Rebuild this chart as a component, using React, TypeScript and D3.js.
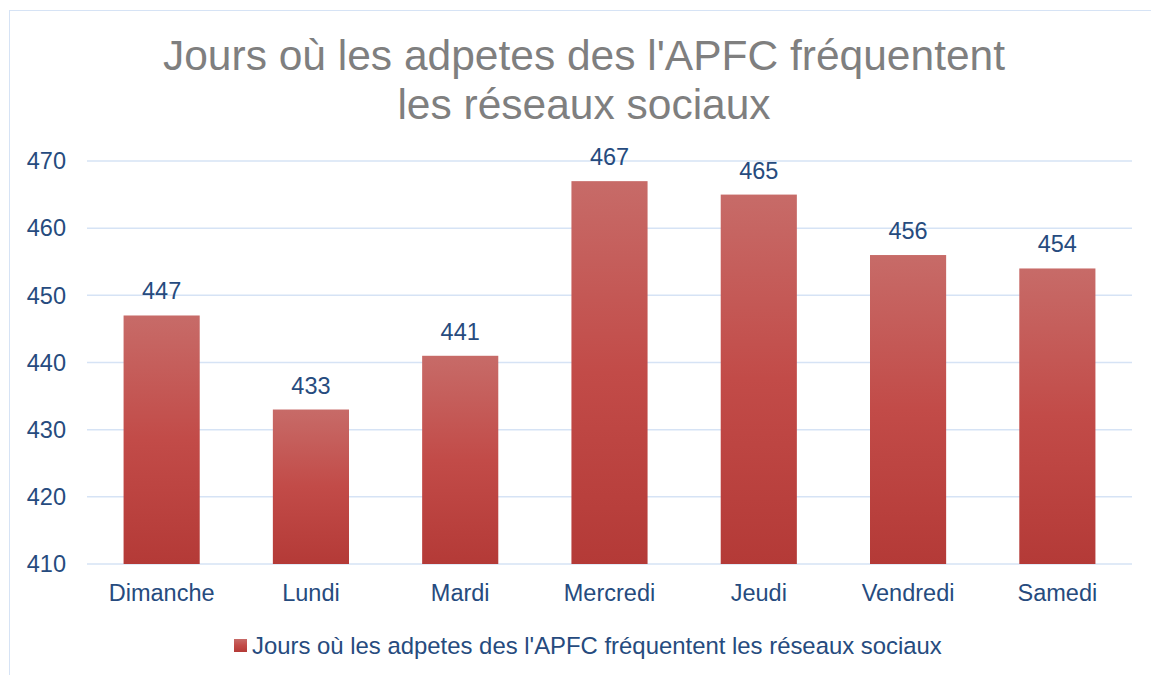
import React from "react";
import * as d3 from "d3";

const categories = ["Dimanche", "Lundi", "Mardi", "Mercredi", "Jeudi", "Vendredi", "Samedi"];
const values = [447, 433, 441, 467, 465, 456, 454];
const yTicks = [410, 420, 430, 440, 450, 460, 470];
const titleLines = ["Jours où les adpetes des l'APFC fréquentent", "les réseaux sociaux"];
const seriesName = "Jours où les adpetes des l'APFC fréquentent les réseaux sociaux";

export default function App() {
  const W = 1151, H = 675;
  const left = 87, right = 1132, top = 161, bottom = 564;
  const x = d3.scaleBand().domain(categories).range([left, right]).paddingInner(0.49).paddingOuter(0.245);
  const y = d3.scaleLinear().domain([410, 470]).range([bottom, top]);
  const font = "'Liberation Sans', Arial, sans-serif";
  const blue = "#264b7e";
  return (
    <svg width={W} height={H} style={{ position: "absolute", left: 0, top: 0 }} fontFamily={font}>
      <defs>
        <linearGradient id="barGrad" x1="0" y1="0" x2="0" y2="1">
          <stop offset="0" stopColor="#c76b68" />
          <stop offset="0.5" stopColor="#c24b48" />
          <stop offset="1" stopColor="#b43a37" />
        </linearGradient>
      </defs>
      <rect x={0} y={0} width={W} height={H} fill="#fff" />
      <rect x={9.5} y={10.5} width={W + 20} height={H + 20} fill="#fff" stroke="#d6e3f5" strokeWidth={1} />
      {titleLines.map((t, i) => (
        <text key={i} x={584} y={70 + i * 49} textAnchor="middle" fontSize={42.5} fill="#7f7f7f">{t}</text>
      ))}
      {yTicks.map((t) => (
        <g key={t}>
          <line x1={left} x2={right} y1={y(t)} y2={y(t)} stroke="#d6e3f5" strokeWidth={1.5} />
          <text x={66} y={y(t)} dy="0.35em" textAnchor="end" fontSize={23.5} fill={blue}>{t}</text>
        </g>
      ))}
      {categories.map((c, i) => (
        <g key={c}>
          <rect x={x(c)} y={y(values[i])} width={x.bandwidth()} height={bottom - y(values[i])} fill="url(#barGrad)" />
          <text x={(x(c) as number) + x.bandwidth() / 2} y={y(values[i]) - 16} textAnchor="middle" fontSize={23.5} fill={blue}>{values[i]}</text>
          <text x={(x(c) as number) + x.bandwidth() / 2} y={601} textAnchor="middle" fontSize={23.5} fill={blue}>{c}</text>
        </g>
      ))}
      <rect x={234} y={639} width={13} height={13} fill="url(#barGrad)" />
      <text x={252} y={654} fontSize={23.9} fill={blue}>{seriesName}</text>
    </svg>
  );
}
